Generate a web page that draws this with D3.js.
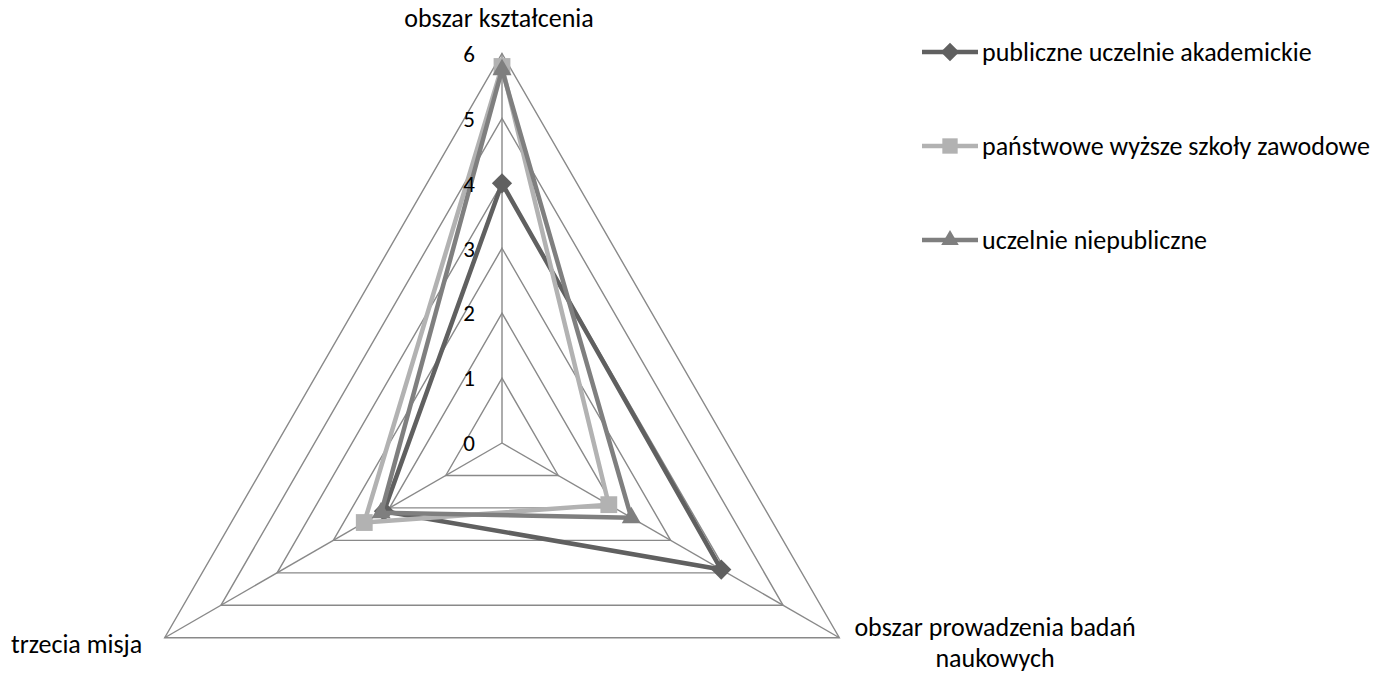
<!DOCTYPE html>
<html>
<head>
<meta charset="utf-8">
<script src="https://cdn.jsdelivr.net/npm/d3@7"></script>
<style>
  body { margin: 0; background: #fff; }
  svg { display: block; font-family: Calibri, Carlito, Lato, sans-serif; }
</style>
</head>
<body>
<script>
const axes = ["obszar kształcenia", "obszar prowadzenia badań naukowych", "trzecia misja"];
const seriesNames = ["publiczne uczelnie akademickie", "państwowe wyższe szkoły zawodowe", "uczelnie niepubliczne"];
const publiczne = [4.0, 3.9, 2.1];
const panstwowe = [5.8, 1.9, 2.45];
const niepubliczne = [5.75, 2.3, 2.15];
const ticks = [0, 1, 2, 3, 4, 5, 6];

const series = [
  { name: seriesNames[0], values: publiczne, color: "#606060", marker: d3.symbolDiamond2 },
  { name: seriesNames[1], values: panstwowe, color: "#b2b2b2", marker: d3.symbolSquare2 },
  { name: seriesNames[2], values: niepubliczne, color: "#7f7f7f", marker: d3.symbolTriangle2 }
];

const width = 1385, height = 674;
const cx = 502, cy = 443;

const svg = d3.select("body").append("svg")
  .attr("width", width)
  .attr("height", height);

const r = d3.scaleLinear().domain([0, 6]).range([0, 389.5]);
const angle = i => -Math.PI / 2 + i * 2 * Math.PI / axes.length;
const pt = (v, i) => [cx + r(v) * Math.cos(angle(i)), cy + r(v) * Math.sin(angle(i))];

// grid
const grid = svg.append("g").attr("class", "grid");
grid.selectAll("polygon")
  .data(ticks.slice(1))
  .enter().append("polygon")
  .attr("points", t => axes.map((a, i) => pt(t, i).join(",")).join(" "))
  .attr("fill", "none")
  .attr("stroke", "#898989")
  .attr("stroke-width", 1.4);

grid.selectAll("line")
  .data(axes)
  .enter().append("line")
  .attr("x1", cx).attr("y1", cy)
  .attr("x2", (d, i) => pt(6, i)[0])
  .attr("y2", (d, i) => pt(6, i)[1])
  .attr("stroke", "#898989")
  .attr("stroke-width", 1.4);

// series
const line = d3.line().curve(d3.curveLinearClosed);
series.forEach(s => {
  const pts = s.values.map((v, i) => pt(v, i));
  const g = svg.append("g");
  g.append("path")
    .attr("d", line(pts))
    .attr("fill", "none")
    .attr("stroke", s.color)
    .attr("stroke-width", 4.5)
    .attr("stroke-linejoin", "round");
  g.selectAll("path.marker")
    .data(pts)
    .enter().append("path")
    .attr("class", "marker")
    .attr("transform", d => "translate(" + d[0] + "," + d[1] + ")")
    .attr("d", d3.symbol().type(s.marker).size(s.marker === d3.symbolSquare2 ? 360 : 260))
    .attr("fill", s.color);
});

// tick labels
svg.append("g").selectAll("text")
  .data(ticks)
  .enter().append("text")
  .attr("x", cx - 27)
  .attr("y", t => cy - r(t))
  .attr("dy", "0.36em")
  .attr("text-anchor", "end")
  .attr("font-size", 23)
  .text(t => t);

// axis labels
const labels = svg.append("g").attr("font-size", 26).attr("fill", "#000");
labels.append("text").attr("x", 499).attr("y", 27).attr("text-anchor", "middle").text(axes[0]);
const lab2 = labels.append("text").attr("x", 995).attr("y", 636).attr("text-anchor", "middle");
lab2.append("tspan").attr("x", 995).text("obszar prowadzenia badań");
lab2.append("tspan").attr("x", 995).attr("dy", 31).text("naukowych");
labels.append("text").attr("x", 11).attr("y", 653).text(axes[2]);

// legend
const legend = svg.append("g").attr("font-size", 26);
const item = legend.selectAll("g")
  .data(series)
  .enter().append("g")
  .attr("transform", (d, i) => "translate(922," + (52 + i * 94) + ")");
item.append("line")
  .attr("x1", 0).attr("x2", 56)
  .attr("stroke", d => d.color)
  .attr("stroke-width", 4.5);
item.append("path")
  .attr("transform", "translate(28,0)")
  .attr("d", d => d3.symbol().type(d.marker).size(d.marker === d3.symbolSquare2 ? 300 : 220)())
  .attr("fill", d => d.color);
item.append("text")
  .attr("x", 60)
  .attr("dy", "0.33em")
  .text(d => d.name);
</script>
</body>
</html>
